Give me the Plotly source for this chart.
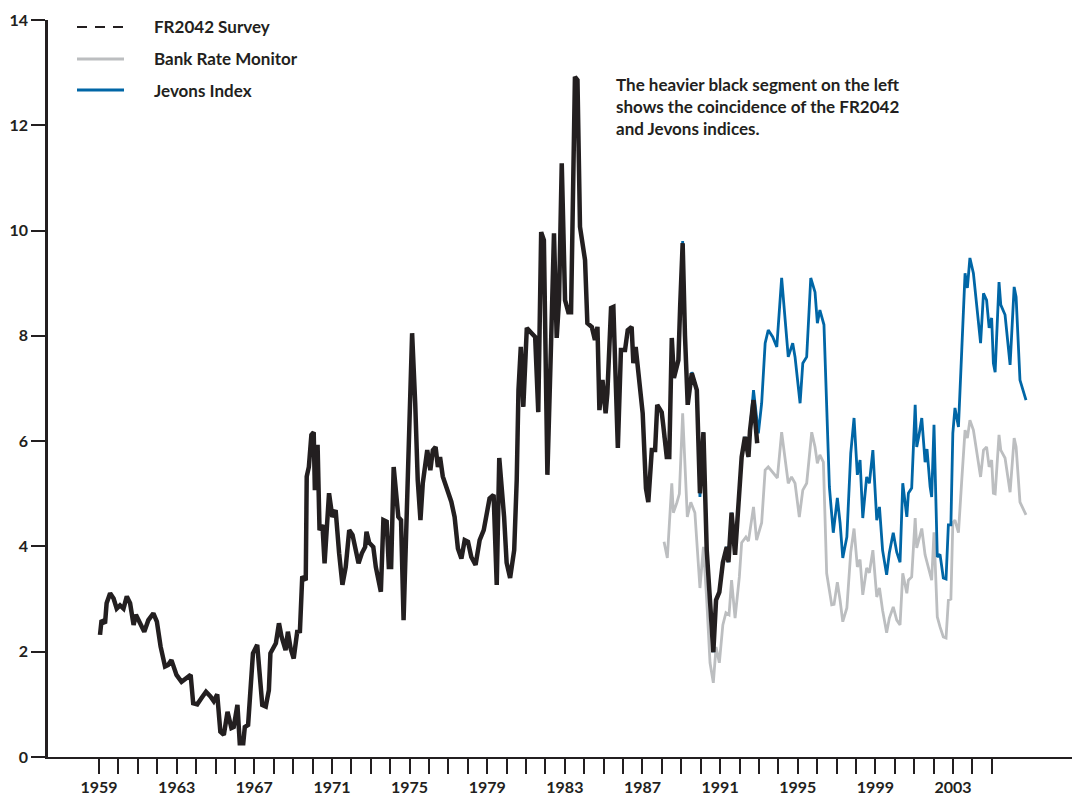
import plotly.graph_objects as go

# FR2042 Survey (heavy black)
fr_years = [1959.05, 1959.13, 1959.31, 1959.39, 1959.57, 1959.75, 1959.91, 1960.08, 1960.26, 1960.43,
            1960.60, 1960.78, 1960.90, 1961.13, 1961.33, 1961.54, 1961.80, 1961.98, 1962.17, 1962.40,
            1962.56, 1962.73, 1962.99, 1963.25, 1963.51, 1963.72, 1963.85, 1964.06, 1964.28, 1964.51,
            1964.74, 1964.91, 1965.09, 1965.25, 1965.43, 1965.62, 1965.82, 1965.94, 1966.13, 1966.25,
            1966.43, 1966.51, 1966.68, 1966.81, 1966.93, 1967.15, 1967.28, 1967.41, 1967.59, 1967.75,
            1967.83, 1968.01, 1968.11, 1968.27, 1968.40, 1968.61, 1968.73, 1968.87, 1969.03, 1969.21,
            1969.35, 1969.47, 1969.65, 1969.70, 1969.81, 1969.94, 1970.06, 1970.12, 1970.26, 1970.36,
            1970.51, 1970.62, 1970.85, 1971.02, 1971.19, 1971.37, 1971.54, 1971.71, 1971.89, 1972.06,
            1972.37, 1972.54, 1972.71, 1972.78, 1972.92, 1973.13, 1973.26, 1973.52, 1973.65, 1973.82,
            1973.93, 1974.05, 1974.18, 1974.42, 1974.56, 1974.69, 1974.82, 1975.00, 1975.13, 1975.29,
            1975.42, 1975.56, 1975.68, 1975.91, 1976.07, 1976.20, 1976.34, 1976.46, 1976.57, 1976.71,
            1976.98, 1977.15, 1977.32, 1977.41, 1977.49, 1977.67, 1977.84, 1978.01, 1978.18, 1978.40,
            1978.61, 1978.82, 1979.12, 1979.33, 1979.49, 1979.62, 1979.87, 1980.00, 1980.18, 1980.39,
            1980.52, 1980.61, 1980.73, 1980.86, 1981.04, 1981.29, 1981.47, 1981.63, 1981.78, 1981.92,
            1982.10, 1982.29, 1982.44, 1982.58, 1982.70, 1982.84, 1983.01, 1983.18, 1983.32, 1983.52,
            1983.65, 1983.78, 1984.04, 1984.16, 1984.39, 1984.55, 1984.68, 1984.78, 1984.94, 1985.10,
            1985.19, 1985.38, 1985.50, 1985.73, 1985.89, 1986.10, 1986.24, 1986.44, 1986.53, 1986.65,
            1986.84, 1987.01, 1987.18, 1987.30, 1987.48, 1987.65, 1987.76, 1987.99, 1988.07, 1988.25,
            1988.38, 1988.51, 1988.62, 1988.85, 1988.94, 1989.07, 1989.19, 1989.33, 1989.54, 1989.80,
            1989.96, 1990.14, 1990.31, 1990.51, 1990.65, 1990.79, 1990.96, 1991.14, 1991.34, 1991.43,
            1991.59, 1991.77, 1991.99, 1992.11, 1992.28, 1992.46, 1992.54, 1992.72, 1992.91]
fr_values = [2.32, 2.60, 2.54, 2.92, 3.11, 3.01, 2.82, 2.88, 2.82, 3.05,
             2.92, 2.51, 2.70, 2.51, 2.38, 2.60, 2.73, 2.57, 2.10, 1.72,
             1.75, 1.84, 1.56, 1.43, 1.49, 1.56, 1.02, 1.00, 1.12, 1.24,
             1.15, 1.06, 1.19, 0.48, 0.42, 0.86, 0.55, 0.57, 0.99, 0.26,
             0.26, 0.57, 0.61, 1.27, 1.97, 2.13, 1.52, 0.99, 0.96, 1.27,
             1.97, 2.07, 2.16, 2.54, 2.29, 2.03, 2.38, 2.06, 1.87, 2.38,
             2.39, 3.43, 3.36, 5.33, 5.51, 6.12, 6.17, 5.07, 5.93, 4.31,
             4.41, 3.68, 5.01, 4.56, 4.69, 3.87, 3.27, 3.61, 4.31, 4.22,
             3.68, 3.87, 3.99, 4.28, 4.07, 3.99, 3.61, 3.14, 4.50, 4.47,
             3.61, 3.61, 5.51, 4.56, 4.50, 2.60, 4.12, 6.21, 8.05, 6.72,
             5.26, 4.50, 5.20, 5.83, 5.45, 5.83, 5.89, 5.51, 5.70, 5.33,
             5.01, 4.85, 4.56, 4.18, 3.96, 3.77, 4.12, 4.09, 3.80, 3.65,
             4.12, 4.31, 4.91, 4.98, 3.27, 5.68, 4.56, 3.69, 3.40, 3.93,
             5.26, 6.97, 7.79, 6.65, 8.15, 8.05, 7.98, 6.55, 9.97, 9.82,
             5.36, 7.86, 9.95, 7.96, 8.68, 11.28, 8.68, 8.45, 8.45, 12.92,
             12.86, 10.07, 9.44, 8.24, 8.17, 7.92, 8.17, 6.59, 7.16, 6.53,
             6.91, 8.53, 8.55, 5.87, 7.73, 7.73, 8.11, 8.17, 7.48, 7.79,
             7.01, 6.53, 5.10, 4.84, 5.83, 5.83, 6.69, 6.55, 6.30, 5.70,
             5.70, 7.96, 7.20, 7.54, 8.55, 9.76, 8.00, 6.69, 7.29, 6.97,
             5.01, 6.17, 3.93, 2.74, 1.99, 2.98, 3.13, 3.69, 3.99, 3.70,
             4.64, 3.84, 5.01, 5.70, 6.08, 5.70, 6.20, 6.78, 5.96]

# Bank Rate Monitor (grey)
brm_years = [1988.11, 1988.28, 1988.51, 1988.59, 1988.77, 1988.90, 1989.07, 1989.19, 1989.31, 1989.49,
             1989.70, 1989.96, 1990.14, 1990.31, 1990.48, 1990.65, 1990.79, 1990.96, 1991.14, 1991.30,
             1991.46, 1991.59, 1991.77, 1991.99, 1992.11, 1992.33, 1992.46, 1992.72, 1992.88, 1993.14,
             1993.32, 1993.48, 1993.74, 1993.95, 1994.17, 1994.51, 1994.68, 1994.86, 1995.08, 1995.26,
             1995.46, 1995.72, 1995.89, 1996.01, 1996.14, 1996.32, 1996.49, 1996.75, 1996.87, 1997.04,
             1997.18, 1997.32, 1997.53, 1997.73, 1997.90, 1998.07, 1998.21, 1998.35, 1998.55, 1998.69,
             1998.87, 1999.07, 1999.21, 1999.37, 1999.58, 1999.72, 1999.92, 2000.10, 2000.27, 2000.41,
             2000.62, 2000.70, 2000.87, 2001.05, 2001.13, 2001.39, 2001.56, 2001.82, 2001.90, 2002.02,
             2002.19, 2002.33, 2002.50, 2002.64, 2002.76, 2002.89, 2002.99, 2003.10, 2003.28, 2003.45,
             2003.62, 2003.74, 2003.87, 2004.05, 2004.23, 2004.42, 2004.57, 2004.73, 2004.86, 2004.99,
             2005.08, 2005.17, 2005.37, 2005.46, 2005.68, 2005.94, 2006.15, 2006.25, 2006.45, 2006.59,
             2006.76]
brm_values = [4.09, 3.78, 5.20, 4.64, 4.83, 5.00, 6.53, 5.58, 4.56, 4.84,
              4.64, 3.21, 3.99, 2.98, 1.79, 1.41, 2.09, 1.79, 2.51, 2.74,
              2.70, 3.36, 2.64, 3.42, 4.07, 4.18, 4.10, 4.75, 4.12, 4.45,
              5.45, 5.51, 5.39, 5.30, 6.17, 5.20, 5.32, 5.20, 4.56, 5.07,
              5.20, 6.17, 5.89, 5.58, 5.74, 5.60, 3.49, 2.89, 2.90, 3.32,
              2.98, 2.57, 2.83, 3.89, 4.34, 3.61, 3.75, 3.08, 3.59, 3.50,
              3.93, 3.04, 3.21, 2.79, 2.36, 2.64, 2.85, 2.60, 2.51, 3.49,
              3.11, 3.36, 3.42, 4.54, 3.97, 4.34, 3.84, 3.46, 3.36, 4.27,
              2.66, 2.47, 2.28, 2.26, 2.98, 3.00, 4.45, 4.50, 4.26, 5.26,
              6.21, 6.06, 6.40, 6.21, 5.77, 5.32, 5.83, 5.89, 5.51, 5.64,
              5.01, 5.00, 6.12, 5.83, 5.68, 5.03, 6.06, 5.89, 4.84, 4.73,
              4.60]

# Jevons Index (blue)
jev_years = [1988.11, 1988.25, 1988.38, 1988.51, 1988.62, 1988.85, 1988.94, 1989.07, 1989.19, 1989.33,
             1989.54, 1989.80, 1989.96, 1990.14, 1990.31, 1990.51, 1990.65, 1990.79, 1990.96, 1991.14,
             1991.34, 1991.43, 1991.59, 1991.77, 1991.99, 1992.11, 1992.28, 1992.46, 1992.54, 1992.72,
             1992.97, 1993.14, 1993.32, 1993.48, 1993.71, 1993.92, 1994.17, 1994.51, 1994.74, 1994.86,
             1995.12, 1995.26, 1995.46, 1995.67, 1995.89, 1996.01, 1996.14, 1996.35, 1996.63, 1996.83,
             1997.04, 1997.18, 1997.32, 1997.53, 1997.73, 1997.90, 1998.07, 1998.21, 1998.35, 1998.55,
             1998.69, 1998.87, 1999.07, 1999.21, 1999.37, 1999.58, 1999.72, 1999.92, 2000.10, 2000.27,
             2000.41, 2000.62, 2000.70, 2000.87, 2001.05, 2001.13, 2001.24, 2001.39, 2001.56, 2001.66,
             2001.82, 2001.90, 2002.02, 2002.19, 2002.33, 2002.50, 2002.64, 2002.76, 2002.89, 2002.99,
             2003.10, 2003.28, 2003.45, 2003.62, 2003.74, 2003.87, 2004.05, 2004.23, 2004.42, 2004.57,
             2004.73, 2004.86, 2004.99, 2005.08, 2005.17, 2005.37, 2005.46, 2005.68, 2005.94, 2006.15,
             2006.25, 2006.45, 2006.59, 2006.76]
jev_values = [6.10, 5.70, 5.70, 7.96, 7.20, 7.54, 8.55, 9.80, 8.00, 6.69,
              7.31, 6.97, 4.94, 6.17, 3.93, 2.74, 1.99, 2.98, 3.13, 3.69,
              3.99, 3.70, 4.64, 3.84, 5.01, 5.70, 6.08, 5.70, 6.20, 6.97,
              6.15, 6.72, 7.86, 8.11, 7.98, 7.79, 9.10, 7.60, 7.86, 7.60,
              6.72, 7.48, 7.60, 9.10, 8.83, 8.24, 8.49, 8.21, 5.13, 4.26,
              4.92, 4.45, 3.78, 4.18, 5.77, 6.44, 5.36, 5.64, 4.54, 5.32,
              5.20, 5.83, 4.50, 4.75, 3.93, 3.46, 3.88, 4.26, 3.89, 3.70,
              5.20, 4.56, 5.01, 5.11, 6.69, 5.89, 6.10, 6.44, 5.60, 5.85,
              5.13, 4.94, 6.31, 3.80, 3.85, 3.40, 3.38, 4.41, 4.41, 6.15,
              6.63, 6.27, 7.73, 9.19, 8.91, 9.48, 9.19, 8.55, 7.86, 8.81,
              8.68, 8.15, 8.34, 7.48, 7.31, 9.02, 8.59, 8.40, 7.45, 8.93,
              8.74, 7.16, 6.97, 6.78]

tick_years = list(range(1959, 2006))
tick_labels = [str(y) if (y - 1959) % 4 == 0 else "" for y in tick_years]
y_ticks = [0, 2, 4, 6, 8, 10, 12, 14]

INK = "#231F20"
GREY = "#BCBEC0"
BLUE = "#0066A6"
FONT = "Lato"

fig = go.Figure()
fig.add_trace(go.Scatter(x=brm_years, y=brm_values, mode="lines", name="Bank Rate Monitor",
                         line=dict(color=GREY, width=2.8), showlegend=False))
fig.add_trace(go.Scatter(x=jev_years, y=jev_values, mode="lines", name="Jevons Index",
                         line=dict(color=BLUE, width=2.8), showlegend=False))
fig.add_trace(go.Scatter(x=fr_years, y=fr_values, mode="lines", name="FR2042 Survey",
                         line=dict(color=INK, width=4.5), showlegend=False))

W, H = 1072, 798
L, R, T, B = 48, 0, 20, 41
pw, ph = W - L - R, H - T - B

def px(x):
    return (x - L) / pw

def py(y):
    return (H - B - y) / ph

legend_items = [("FR2042 Survey", INK, 2, "10px,8px", 27),
                ("Bank Rate Monitor", GREY, 2.8, "solid", 59),
                ("Jevons Index", BLUE, 2.8, "solid", 90)]
shapes = []
annotations = []
for label, color, width, dash, yy in legend_items:
    shapes.append(dict(type="line", xref="paper", yref="paper",
                       x0=px(77), x1=px(124), y0=py(yy), y1=py(yy),
                       line=dict(color=color, width=width, dash=dash)))
    annotations.append(dict(xref="paper", yref="paper", x=px(152), y=py(yy),
                            xanchor="left", yanchor="middle", showarrow=False,
                            text=label, font=dict(family=FONT, size=17, color=INK, weight="bold")))

annotations.append(dict(xref="paper", yref="paper", x=px(614), y=py(72),
                        xanchor="left", yanchor="top", align="left", showarrow=False,
                        text="The heavier black segment on the left<br>shows the coincidence of the FR2042<br>and Jevons indices.",
                        font=dict(family=FONT, size=17, color=INK, weight="bold")))

fig.update_layout(
    width=W, height=H,
    margin=dict(l=L, r=R, t=T, b=B, autoexpand=False),
    plot_bgcolor="white", paper_bgcolor="white",
    shapes=shapes, annotations=annotations,
    showlegend=False,
    xaxis=dict(range=[1956.37, 2009.13], tickmode="array", tickvals=tick_years, ticktext=tick_labels,
               ticks="outside", ticklen=15, tickwidth=2.2, tickcolor=INK,
               showline=True, linewidth=2.2, linecolor=INK, showgrid=False, zeroline=False,
               tickfont=dict(family=FONT, size=16, color=INK, weight="bold"), automargin=False),
    yaxis=dict(range=[0, 14], tickmode="array", tickvals=y_ticks,
               ticks="outside", ticklen=14, tickwidth=2.2, tickcolor=INK,
               showline=True, linewidth=2.5, linecolor=INK, showgrid=False, zeroline=False,
               tickfont=dict(family=FONT, size=16, color=INK, weight="bold"), automargin=False),
)

fig.write_html("out.html", config={"displayModeBar": False},
               post_script="document.body.style.margin='0px';document.body.style.overflow='hidden';")
